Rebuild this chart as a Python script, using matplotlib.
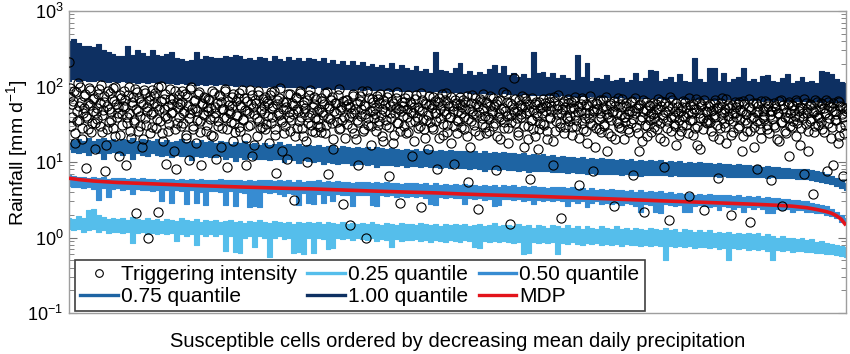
import numpy as np
import matplotlib
matplotlib.use("Agg")
import matplotlib.pyplot as plt
from matplotlib.lines import Line2D
from matplotlib.ticker import LogLocator, NullFormatter

plt.rcParams['font.family'] = ['Liberation Sans', 'DejaVu Sans']
plt.rcParams['mathtext.fontset'] = 'custom'
plt.rcParams['mathtext.rm'] = 'Liberation Sans'
plt.rcParams['mathtext.it'] = 'Liberation Sans:italic'
plt.rcParams['mathtext.bf'] = 'Liberation Sans:bold'

# ---- data: per-bin envelopes (min / max) of the dense quantile lines ----
q100_hi = [400, 420, 380, 340, 345, 330, 360, 300, 285, 270,
           255, 250, 340, 260, 300, 280, 250, 300, 260, 250,
           270, 285, 240, 230, 215, 225, 290, 230, 250, 245,
           240, 235, 250, 245, 265, 250, 230, 240, 225, 245,
           235, 220, 250, 230, 215, 245, 225, 240, 220, 235,
           230, 215, 240, 205, 225, 200, 215, 190, 220, 195,
           210, 185, 200, 180, 195, 175, 205, 170, 190, 175,
           165, 185, 160, 170, 150, 290, 165, 160, 150, 175,
           205, 145, 160, 140, 155, 145, 170, 195, 150, 185,
           140, 150, 135, 145, 130, 285, 150, 155, 135, 150,
           130, 140, 130, 122, 260, 135, 205, 120, 130, 125,
           140, 118, 122, 128, 115, 122, 150, 118, 130, 165,
           160, 120, 125, 132, 115, 145, 120, 116, 235, 125,
           115, 178, 175, 118, 150, 115, 125, 135, 175, 118,
           125, 114, 138, 140, 118, 115, 128, 145, 112, 120,
           135, 115, 120, 112, 160, 158, 148, 125, 115, 112]
q100_lo = [120, 125, 118, 122, 120, 117, 121, 118, 116, 119,
           115, 117, 113, 116, 112, 115, 111, 114, 110, 113,
           110, 112, 108, 111, 107, 110, 106, 109, 105, 108,
           105, 107, 104, 106, 103, 105, 102, 104, 101, 103,
           100, 102, 99, 101, 98, 100, 97, 99, 96, 98,
           96, 97, 94, 96, 93, 95, 92, 94, 91, 93,
           91, 92, 90, 91, 89, 90, 88, 89, 87, 88,
           87, 88, 86, 87, 85, 86, 84, 85, 84, 85,
           83, 84, 82, 83, 81, 82, 80, 81, 80, 81,
           79, 80, 78, 79, 77, 78, 77, 78, 76, 77,
           75, 76, 74, 75, 73, 74, 73, 74, 72, 73,
           72, 73, 71, 72, 71, 72, 70, 71, 70, 71,
           70, 71, 69, 70, 69, 70, 68, 69, 68, 69,
           68, 69, 67, 68, 67, 68, 66, 67, 66, 67,
           66, 67, 65, 66, 65, 66, 64, 65, 64, 65,
           64, 65, 63, 64, 63, 64, 62, 63, 62, 61]

q075_hi = [18, 19.5, 20, 19, 20.5, 19, 20, 21, 19.5, 20,
           19, 20, 19.5, 21, 19, 20, 19.5, 19, 20, 18.5,
           19.5, 18.5, 19, 20, 18.5, 19, 18, 19.5, 18.5, 19,
           18, 19, 18.5, 17.5, 18.5, 18, 19, 17.5, 18, 17,
           18, 17, 17.5, 18.5, 17, 17.5, 16.5, 17.5, 16.5, 17,
           16.5, 17, 16, 16.5, 17, 15.5, 16.5, 16, 15.5, 16,
           15.5, 16, 15, 16, 15.5, 14.8, 15.5, 15, 14.5, 15,
           14.5, 15, 14.2, 15, 14.5, 14, 14.5, 13.8, 14.5, 14,
           13.8, 14.2, 13.5, 14, 13.2, 13.8, 13.2, 13.5, 13, 13.4,
           13, 13.3, 12.6, 13, 12.5, 12.8, 12.2, 12.6, 12, 12.4,
           11.8, 12, 11.5, 11.8, 11.3, 11.6, 11.1, 11.4, 11, 11.2,
           10.9, 11.1, 10.7, 11, 10.6, 10.8, 10.4, 10.7, 10.3, 10.5,
           10.2, 10.5, 10.1, 10.3, 10, 10.2, 9.8, 10, 9.7, 9.9,
           9.6, 9.8, 9.4, 9.7, 9.3, 9.5, 9.1, 9.3, 9, 9.1,
           8.9, 9, 8.7, 8.9, 8.5, 8.7, 8.3, 8.4, 8.1, 8.2,
           8, 8, 7.8, 7.6, 7.3, 7, 6.6, 6.2, 5.7, 5.2]
q075_lo = [15, 13.5, 13, 13.5, 12.5, 13.5, 13, 10.8, 13, 13.5,
           13, 12.5, 13, 11, 13, 12.5, 12, 13, 12.5, 12,
           12.5, 11.5, 12.5, 12, 12, 10.5, 12, 11.5, 12, 11.5,
           11.5, 12, 11, 11.5, 10.2, 11.5, 11, 11.5, 10.8, 11,
           11, 10.5, 11, 10.8, 10, 10.8, 10.5, 9.8, 10.5, 10.2,
           10, 10.2, 9.5, 10, 9.8, 9.3, 9.8, 9.6, 9.2, 9.5,
           9.4, 9.2, 9.4, 8.6, 9.2, 9.1, 9.2, 8.9, 9, 8.5,
           8.9, 8.8, 8.6, 8.8, 8.5, 8.7, 8.3, 8.6, 8.4, 8.5,
           8.3, 8.4, 8.1, 8.3, 8.1, 7.6, 8.1, 8, 7.9, 8,
           7.9, 7.8, 7.7, 7.8, 7.4, 7.7, 7.6, 7.5, 7.6, 7.4,
           7.4, 7.3, 7.2, 7.3, 7.1, 7.2, 6.9, 7.1, 7, 6.9,
           7, 6.9, 6.9, 6.7, 6.9, 6.8, 6.8, 6.6, 6.8, 6.7,
           6.8, 6.7, 6.7, 6.5, 6.7, 6.6, 6.6, 6.5, 6.6, 6.5,
           6.6, 6.5, 6.5, 6.3, 6.5, 6.4, 6.4, 6.3, 6.4, 6.3,
           6.4, 6.3, 6.3, 6.1, 6.3, 6.2, 6.2, 6.1, 6.1, 6.0,
           6.0, 5.9, 5.8, 5.6, 5.5, 5.3, 5.1, 4.8, 4.5, 4.2]

q050_hi = [6.7, 6.5, 6.3, 6.4, 6.2, 6.4, 6.1, 6.3, 6.0, 6.2,
           6.1, 6.2, 5.9, 6.1, 5.9, 6.1, 5.9, 6.0, 5.8, 6.0,
           5.9, 6.0, 5.8, 5.9, 5.8, 5.9, 5.7, 5.9, 5.7, 5.8,
           5.8, 5.9, 5.7, 5.8, 5.7, 5.8, 5.6, 5.8, 5.6, 5.7,
           5.7, 5.8, 5.6, 5.7, 5.6, 5.7, 5.5, 5.7, 5.5, 5.6,
           5.6, 5.7, 5.5, 5.6, 5.4, 5.6, 5.4, 5.5, 5.3, 5.5,
           5.4, 5.5, 5.3, 5.4, 5.2, 5.4, 5.2, 5.3, 5.1, 5.3,
           5.2, 5.3, 5.1, 5.2, 5.0, 5.2, 5.0, 5.1, 4.9, 5.1,
           5.0, 5.1, 4.9, 5.0, 4.8, 5.0, 4.8, 4.9, 4.7, 4.9,
           4.8, 4.9, 4.7, 4.8, 4.6, 4.8, 4.6, 4.7, 4.5, 4.7,
           4.6, 4.7, 4.5, 4.6, 4.4, 4.5, 4.3, 4.5, 4.3, 4.4,
           4.3, 4.4, 4.2, 4.3, 4.1, 4.2, 4.0, 4.2, 4.0, 4.1,
           4.0, 4.1, 3.9, 4.0, 3.8, 3.9, 3.8, 3.9, 3.7, 3.8,
           3.7, 3.8, 3.6, 3.7, 3.6, 3.6, 3.5, 3.6, 3.4, 3.5,
           3.4, 3.5, 3.3, 3.4, 3.3, 3.3, 3.2, 3.2, 3.1, 3.1,
           3.0, 3.0, 2.9, 2.8, 2.7, 2.6, 2.4, 2.2, 2.0, 1.8]
q050_lo = [4.8, 4.6, 4.7, 4.5, 4.6, 4.4, 3.1, 4.5, 3.4, 4.4,
           4.5, 4.3, 4.4, 3.8, 4.4, 4.2, 4.3, 4.1, 4.3, 3.0,
           4.3, 2.9, 4.2, 4.1, 2.8, 4.2, 2.9, 4.0, 2.7, 4.1,
           4.1, 4.0, 2.7, 4.1, 2.6, 4.0, 3.9, 2.5, 2.6, 2.5,
           4.0, 3.9, 4.0, 3.8, 3.5, 3.9, 3.8, 2.7, 3.9, 2.9,
           2.8, 3.8, 2.9, 3.7, 3.0, 3.8, 3.7, 3.6, 2.6, 3.7,
           3.7, 3.6, 2.7, 2.6, 3.6, 3.5, 3.6, 3.4, 3.5, 3.4,
           3.5, 3.4, 3.5, 3.3, 2.8, 2.7, 3.4, 3.3, 3.4, 3.3,
           3.3, 2.8, 3.3, 3.2, 3.3, 3.1, 3.2, 2.6, 2.7, 3.2,
           3.2, 3.1, 3.2, 3.0, 3.1, 2.8, 3.1, 3.0, 3.1, 3.0,
           3.1, 3.0, 2.6, 3.0, 2.9, 3.0, 2.5, 2.9, 3.0, 2.8,
           2.9, 2.8, 2.9, 2.7, 2.9, 2.8, 2.6, 2.2, 2.8, 2.7,
           2.2, 2.1, 2.8, 2.7, 2.6, 2.7, 2.2, 2.2, 2.6, 2.7,
           2.6, 2.5, 2.6, 2.3, 2.6, 2.5, 2.4, 2.5, 2.2, 2.5,
           2.4, 2.5, 2.4, 2.1, 2.1, 2.4, 2.3, 2.4, 2.2, 2.3,
           2.3, 2.2, 2.2, 2.1, 2.1, 2.0, 1.9, 1.8, 1.6, 1.5]

q025_hi = [1.8, 1.75, 1.9, 1.8, 2.3, 2.4, 2.0, 1.85, 1.75, 1.8,
           1.75, 1.8, 1.7, 1.85, 1.75, 1.7, 1.8, 1.7, 1.75, 1.65,
           1.75, 1.7, 1.65, 1.8, 1.7, 1.65, 1.75, 1.6, 1.7, 1.65,
           1.7, 1.6, 1.65, 1.7, 1.6, 1.65, 1.55, 1.65, 1.6, 1.7,
           1.6, 1.55, 1.65, 1.6, 1.55, 1.6, 1.5, 1.6, 1.55, 1.6,
           1.55, 1.6, 1.5, 1.6, 1.55, 1.5, 1.6, 1.5, 1.55, 1.5,
           1.55, 1.5, 1.6, 1.5, 1.45, 1.55, 1.5, 1.45, 1.55, 1.5,
           1.5, 1.45, 1.55, 1.5, 1.45, 1.5, 1.4, 1.5, 1.45, 1.5,
           1.45, 1.5, 1.4, 1.45, 1.5, 1.4, 1.45, 1.55, 1.4, 1.45,
           1.45, 1.4, 1.5, 1.4, 1.45, 1.35, 1.45, 1.4, 1.35, 1.45,
           1.4, 1.35, 1.45, 1.35, 1.4, 1.3, 1.4, 1.35, 1.3, 1.4,
           1.35, 1.3, 1.4, 1.3, 1.35, 1.25, 1.35, 1.3, 1.25, 1.35,
           1.3, 1.25, 1.35, 1.25, 1.3, 1.2, 1.3, 1.25, 1.2, 1.25,
           1.2, 1.25, 1.15, 1.2, 1.15, 1.2, 1.1, 1.15, 1.1, 1.15,
           1.1, 1.15, 1.05, 1.1, 1.05, 1.0, 1.05, 0.98, 1.0, 0.95,
           0.98, 0.92, 0.95, 0.88, 0.9, 0.85, 0.82, 0.8, 0.78, 0.75]
q025_lo = [1.3, 1.25, 1.3, 1.2, 1.25, 1.3, 1.2, 1.25, 1.15, 1.2,
           1.2, 1.15, 1.2, 0.85, 1.15, 1.2, 1.1, 1.15, 1.1, 1.15,
           1.1, 1.15, 0.9, 1.1, 1.05, 1.1, 0.8, 1.1, 1.05, 1.1,
           1.05, 1.1, 0.67, 1.05, 0.65, 0.62, 1.0, 1.05, 0.75, 1.05,
           1.0, 0.55, 1.0, 1.05, 0.95, 1.0, 0.62, 0.65, 0.6, 0.98,
           0.62, 1.0, 0.95, 0.7, 0.72, 1.0, 0.95, 0.98, 0.92, 0.98,
           0.95, 0.92, 0.98, 0.9, 0.95, 0.93, 0.75, 0.95, 0.9, 0.93,
           0.92, 0.95, 0.9, 0.93, 0.88, 0.92, 0.9, 0.88, 0.92, 0.9,
           0.88, 0.92, 0.9, 0.75, 0.72, 0.9, 0.88, 0.9, 0.86, 0.9,
           0.88, 0.85, 0.88, 0.6, 0.62, 0.87, 0.85, 0.88, 0.84, 0.86,
           0.6, 0.85, 0.82, 0.86, 0.83, 0.8, 0.85, 0.82, 0.84, 0.8,
           0.83, 0.8, 0.82, 0.78, 0.81, 0.79, 0.8, 0.77, 0.8, 0.78,
           0.79, 0.76, 0.5, 0.77, 0.75, 0.78, 0.74, 0.76, 0.73, 0.75,
           0.74, 0.72, 0.75, 0.71, 0.73, 0.5, 0.72, 0.7, 0.72, 0.69,
           0.71, 0.68, 0.7, 0.67, 0.5, 0.68, 0.66, 0.68, 0.65, 0.67,
           0.66, 0.64, 0.65, 0.62, 0.63, 0.6, 0.61, 0.58, 0.57, 0.55]

# MDP curve (cell index, value)
mdp_cells = [1, 3, 6, 11, 16, 21, 26, 31, 36, 41, 46, 51, 56, 61, 66, 71, 76,
             81, 86, 91, 96, 101, 106, 111, 116, 121, 126, 131, 136, 141,
             146, 149, 152, 154, 156, 157, 158, 159, 160]
mdp = [6.1, 5.85, 5.6, 5.35, 5.2, 5.05, 4.9, 4.78, 4.67, 4.57, 4.47, 4.4,
       4.28, 4.17, 4.07, 3.98, 3.9, 3.78, 3.68, 3.6, 3.52, 3.43, 3.35, 3.26,
       3.17, 3.08, 3.0, 2.92, 2.84, 2.76, 2.67, 2.6, 2.48, 2.35, 2.2, 2.1,
       1.95, 1.75, 1.45]

# Triggering intensity (two interleaved sets of cells, in cell order)
trig = [210, 95, 40, 65, 18, 85, 35, 55, 100, 28, 45, 75, 8.3, 38, 60, 90, 25, 48, 70, 33,
        52, 80, 30, 105, 42, 62, 7.5, 27, 88, 50, 36, 68, 95, 22, 58, 44, 12, 78, 31, 55,
        66, 9, 40, 98, 26, 57, 72, 34, 2.1, 85, 47, 30, 62, 20, 90, 38, 53, 1.0, 75, 43,
        29, 60, 83, 37, 2.15, 50, 103, 24, 68, 41, 9.5, 56, 32, 92, 46, 71, 27, 8, 63, 39,
        58, 86, 33, 48, 21, 74, 10.5, 44, 97, 30, 65, 52, 36, 80, 25, 9, 60, 42, 70, 31,
        47, 67, 23, 88, 40, 54, 11, 35, 76, 62, 28, 50, 94, 38, 8.5, 57, 44, 72, 19, 33,
        64, 41, 82, 26, 53, 37, 70, 9, 48, 30, 90, 58, 12, 43, 66, 22, 78, 35, 51, 29,
        45, 73, 32, 60, 18, 85, 39, 55, 27, 7.2, 67, 42, 95, 34, 50, 24, 62, 11, 46, 80,
        36, 57, 3.1, 70, 28, 48, 88, 40, 22, 63, 52, 10, 33, 76, 44, 26, 59, 38, 68, 30,
        50, 25, 65, 42, 82, 31, 7, 56, 37, 72, 20, 47, 61, 34, 92, 28, 53, 2.8, 40, 66,
        32, 58, 1.45, 45, 75, 24, 51, 36, 9.2, 64, 41, 86, 27, 55, 1.0, 38, 70, 30, 47, 62,
        43, 26, 68, 35, 80, 50, 19, 58, 31, 73, 6.5, 45, 38, 60, 23, 52, 84, 33, 2.9, 48,
        56, 30, 71, 40, 25, 63, 46, 12, 54, 35, 78, 28, 49, 2.5, 66, 37, 21, 58, 42, 74,
        34, 52, 27, 64, 45, 8, 70, 38, 57, 23, 48, 82, 31, 61, 40, 18, 55, 9.5, 67, 36,
        47, 72, 29, 54, 39, 63, 22, 5.5, 50, 35, 76, 43, 26, 59, 2.4, 46, 68, 32, 52, 41,
        24, 60, 37, 74, 44, 30, 55, 7.8, 65, 40, 20, 50, 85, 34, 47, 62, 28, 1.5, 42, 57,
        130, 33, 48, 25, 66, 39, 53, 16, 71, 44, 30, 58, 6, 36, 49, 22, 63, 41, 27, 52,
        45, 68, 31, 55, 20, 62, 38, 48, 9, 72, 26, 43, 57, 33, 1.8, 50, 65, 29, 40, 60,
        35, 52, 23, 64, 42, 30, 56, 5, 47, 70, 27, 38, 59, 18, 45, 33, 62, 7.5, 50, 28,
        58, 37, 44, 25, 67, 32, 50, 14, 40, 61, 22, 46, 2.6, 55, 35, 70, 29, 42, 53, 20,
        39, 60, 27, 48, 33, 65, 6.8, 44, 52, 24, 57, 36, 19, 47, 2.2, 62, 30, 41, 55, 25,
        43, 29, 58, 35, 50, 21, 64, 38, 8.5, 46, 28, 56, 1.7, 40, 67, 32, 48, 17, 53, 36,
        26, 54, 41, 62, 31, 45, 3.5, 57, 36, 23, 50, 68, 30, 44, 15, 59, 38, 2.3, 48, 33,
        55, 34, 47, 22, 61, 39, 52, 6.2, 28, 44, 70, 33, 50, 18, 57, 37, 2.0, 45, 25, 63,
        40, 58, 30, 49, 14, 65, 36, 43, 26, 53, 1.6, 38, 60, 29, 46, 8, 55, 33, 21, 48,
        37, 52, 27, 60, 42, 5.8, 48, 31, 56, 20, 44, 64, 34, 2.6, 50, 39, 24, 58, 12, 45,
        29, 55, 41, 66, 33, 48, 17, 52, 38, 7, 60, 44, 26, 35, 57, 3.8, 46, 30, 62, 40,
        50, 34, 58, 25, 45, 7.5, 62, 38, 53, 29, 9, 47, 36, 65, 22, 55, 43, 6.5, 31, 52]
trig2 = [72, 30, 58, 88, 24, 47, 110, 36, 63, 20, 52, 80, 41, 27, 95, 57, 33, 69, 15, 44,
         37, 92, 61, 25, 49, 75, 17, 56, 34, 83, 46, 28, 65, 100, 39, 53, 23, 71, 43, 86,
         54, 33, 77, 45, 21, 62, 36, 94, 50, 26, 70, 41, 16, 59, 82, 31, 48, 66, 24, 89,
         46, 74, 28, 55, 97, 35, 64, 19, 51, 80, 38, 26, 69, 44, 58, 14, 86, 33, 53, 76,
         30, 62, 45, 79, 23, 56, 38, 92, 50, 27, 67, 18, 48, 84, 35, 59, 43, 72, 26, 54,
         68, 37, 52, 22, 83, 45, 61, 30, 74, 16, 50, 39, 87, 27, 64, 47, 34, 56, 79, 25,
         42, 70, 29, 57, 91, 36, 49, 21, 65, 44, 31, 78, 53, 17, 60, 38, 86, 28, 47, 69,
         56, 27, 65, 41, 76, 33, 52, 88, 23, 59, 45, 70, 36, 14, 63, 30, 54, 80, 40, 26,
         61, 43, 22, 72, 50, 35, 81, 28, 57, 46, 19, 66, 39, 90, 31, 53, 73, 25, 48, 37,
         29, 71, 46, 58, 24, 85, 38, 52, 67, 33, 15, 60, 44, 78, 27, 49, 36, 64, 21, 55,
         66, 39, 53, 28, 80, 45, 20, 61, 34, 74, 50, 26, 57, 43, 88, 31, 47, 17, 69, 38,
         52, 74, 31, 60, 42, 22, 67, 48, 36, 83, 29, 55, 64, 18, 45, 71, 33, 50, 26, 62,
         41, 63, 24, 51, 77, 34, 58, 45, 19, 68, 39, 54, 30, 82, 47, 27, 61, 36, 15, 57,
         59, 29, 73, 44, 35, 62, 21, 51, 80, 32, 66, 43, 25, 56, 39, 72, 47, 30, 60, 24,
         35, 58, 44, 66, 27, 50, 75, 37, 16, 61, 48, 31, 70, 42, 55, 23, 64, 38, 79, 29,
         63, 40, 26, 55, 47, 71, 33, 59, 22, 45, 67, 37, 52, 28, 80, 41, 18, 60, 34, 50,
         46, 68, 38, 23, 57, 43, 75, 30, 53, 64, 20, 48, 36, 71, 27, 58, 44, 15, 62, 33,
         54, 32, 61, 47, 26, 70, 40, 56, 19, 65, 35, 50, 76, 29, 45, 60, 24, 53, 38, 68,
         41, 63, 29, 52, 72, 36, 46, 21, 58, 33, 67, 44, 26, 55, 38, 74, 31, 48, 16, 61,
         50, 27, 66, 39, 54, 30, 73, 43, 24, 57, 36, 48, 64, 20, 45, 33, 59, 28, 68, 40,
         34, 56, 43, 25, 62, 47, 37, 70, 29, 52, 14, 59, 40, 66, 31, 49, 22, 57, 36, 45,
         60, 38, 51, 27, 68, 33, 55, 42, 19, 63, 35, 47, 72, 26, 53, 40, 30, 61, 44, 23,
         48, 31, 64, 40, 53, 24, 70, 36, 45, 58, 28, 50, 17, 62, 38, 55, 27, 66, 34, 46,
         36, 59, 26, 49, 42, 67, 31, 54, 20, 61, 38, 46, 29, 69, 41, 52, 23, 57, 35, 44,
         53, 28, 62, 37, 47, 22, 58, 43, 33, 68, 26, 51, 40, 16, 60, 35, 48, 27, 64, 39,
         42, 65, 31, 55, 24, 48, 37, 61, 29, 52, 44, 19, 67, 34, 57, 26, 46, 38, 62, 30,
         57, 35, 49, 22, 63, 40, 54, 28, 45, 69, 32, 51, 14, 59, 37, 47, 25, 66, 42, 31,
         38, 61, 27, 52, 44, 66, 33, 56, 21, 48, 60, 36, 43, 18, 63, 29, 54, 40, 24, 47]

labels = ['Triggering intensity', '0.25 quantile', '0.50 quantile',
          '0.75 quantile', '1.00 quantile', 'MDP']

# ---- styling ----
c025 = '#55BEEB'
c050 = '#378CD2'
c075 = '#1E64A3'
c100 = '#0E3062'
cmdp = '#E3141B'

fig = plt.figure(figsize=(8.5, 3.54), dpi=100)
ax = fig.add_axes([69 / 850, 1 - 313 / 354, 777 / 850, 302 / 354])

n = len(q100_hi)
cells = np.arange(1, n + 1)

for lo, hi, col in [(q025_lo, q025_hi, c025), (q050_lo, q050_hi, c050),
                    (q075_lo, q075_hi, c075), (q100_lo, q100_hi, c100)]:
    ax.fill_between(cells, lo, hi, step='mid', facecolor=col,
                    edgecolor=col, linewidth=0.8, zorder=2)

ax.plot(mdp_cells, mdp, color=cmdp, lw=2.6, zorder=3, solid_capstyle='butt')

step = (n - 1) / (len(trig) - 1)
trig_x = np.linspace(1, n, len(trig))
trig2_x = np.linspace(1 + 0.45 * step, n - 0.1 * step, len(trig2))
for xs, ys in [(trig_x, trig), (trig2_x, trig2)]:
    ax.plot(xs, ys, ls='none', marker='o', ms=6.6, mfc='none',
            mec='black', mew=0.8, zorder=4)

ax.set_yscale('log')
ax.set_ylim(0.1, 1000)
ax.set_xlim(1, n)
ax.set_xticks([])
ax.yaxis.set_major_locator(LogLocator(base=10, numticks=10))
ax.yaxis.set_minor_locator(LogLocator(base=10, subs=np.arange(2, 10), numticks=20))
ax.yaxis.set_minor_formatter(NullFormatter())
ax.tick_params(axis='y', which='both', direction='in', left=True, right=True,
               color='0.45', labelsize=13, pad=4)
ax.tick_params(axis='y', which='major', length=6, width=0.8)
ax.tick_params(axis='y', which='minor', length=3.5, width=0.6)
for s in ax.spines.values():
    s.set_color('0.62')
    s.set_linewidth(1.0)

ax.set_ylabel('Rainfall [mm d$^{-1}$]', fontsize=14)
ax.yaxis.set_label_coords(-0.05, 0.53)
ax.set_xlabel('Susceptible cells ordered by decreasing mean daily precipitation',
              fontsize=14.5, labelpad=14)

h_trig = Line2D([], [], ls='none', marker='o', ms=5.5, mfc='none', mec='black', mew=0.8)
h025 = Line2D([], [], color=c025, lw=2.4)
h050 = Line2D([], [], color=c050, lw=2.4)
h075 = Line2D([], [], color=c075, lw=2.4)
h100 = Line2D([], [], color=c100, lw=2.4)
hmdp = Line2D([], [], color=cmdp, lw=2.4)
handles = [h_trig, h075, h025, h100, h050, hmdp]
order_labels = [labels[0], labels[3], labels[1], labels[4], labels[2], labels[5]]
leg = ax.legend(handles, order_labels, ncol=3, loc='lower left',
                bbox_to_anchor=(0.008, 0.006), borderaxespad=0, fontsize=15,
                handlelength=1.8, handletextpad=0.15, columnspacing=0.5,
                labelspacing=0.15, borderpad=0.25, fancybox=False,
                framealpha=1, edgecolor='0.25')
leg.get_frame().set_linewidth(1.2)
leg.set_zorder(10)

fig.savefig('out.png', dpi=100)
